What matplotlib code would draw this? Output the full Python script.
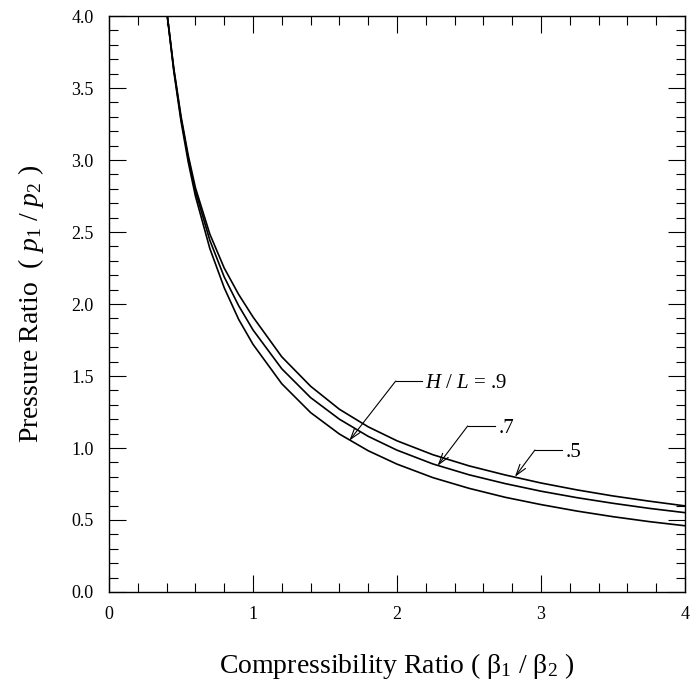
import matplotlib
matplotlib.use("Agg")
import matplotlib.pyplot as plt
from matplotlib.ticker import MultipleLocator

plt.rcParams['font.family'] = ['Liberation Serif', 'DejaVu Serif']
plt.rcParams['mathtext.fontset'] = 'custom'
plt.rcParams['mathtext.rm'] = 'Liberation Serif'
plt.rcParams['mathtext.it'] = 'Liberation Serif:italic'

# ---- data ----
x_vals = [0.405, 0.45, 0.5, 0.55, 0.6, 0.7, 0.8, 0.9, 1.0, 1.2, 1.4, 1.6, 1.8,
          2.0, 2.25, 2.5, 2.75, 3.0, 3.25, 3.5, 3.75, 4.0]
y_hl_09 = [4.0, 3.616, 3.27, 2.987, 2.75, 2.386, 2.113, 1.894, 1.72, 1.446, 1.246,
           1.097, 0.981, 0.888, 0.794, 0.72, 0.658, 0.607, 0.562, 0.523, 0.489, 0.46]
y_hl_07 = [4.0, 3.627, 3.29, 3.015, 2.783, 2.443, 2.188, 1.989, 1.82, 1.55, 1.35,
           1.2, 1.081, 0.985, 0.889, 0.814, 0.753, 0.70, 0.655, 0.616, 0.581, 0.551]
y_hl_05 = [4.0, 3.636, 3.304, 3.033, 2.808, 2.486, 2.25, 2.067, 1.91, 1.633, 1.429,
           1.269, 1.147, 1.05, 0.953, 0.876, 0.813, 0.757, 0.709, 0.667, 0.631, 0.598]

labels = [r'$H$ / $L$ = .9', '.7', '.5']
arrow_tips = [(1.669, 1.051), (2.282, 0.877), (2.819, 0.80)]
leader_corners = [(1.991, 1.465), (2.491, 1.153), (2.958, 0.986)]
leader_ends = [2.172, 2.681, 3.144]

x_ticks = [0, 1, 2, 3, 4]
y_ticks = [0.0, 0.5, 1.0, 1.5, 2.0, 2.5, 3.0, 3.5, 4.0]

# ---- figure ----
fig = plt.figure(figsize=(6.92, 6.87), dpi=100)
ax = fig.add_axes([109/692, 1-592/687, 576/692, 576/687])

for ys in (y_hl_09, y_hl_07, y_hl_05):
    ax.plot(x_vals, ys, color='black', lw=1.2)

for lab, tip, corner, xend in zip(labels, arrow_tips, leader_corners, leader_ends):
    ax.annotate('', xy=tip, xytext=corner,
                arrowprops=dict(arrowstyle='->,head_length=0.8,head_width=0.25',
                                color='black', lw=0.8, shrinkA=0, shrinkB=0))
    ax.plot([corner[0], xend], [corner[1], corner[1]], color='black', lw=0.8)
    ax.text(xend + 0.025, corner[1] - 0.02, lab, fontsize=15, va='center', ha='left')

ax.set_xlim(0, 4)
ax.set_ylim(0, 4)
ax.set_xticks(x_ticks)
ax.set_xticklabels([str(t) for t in x_ticks])
ax.set_yticks(y_ticks)
ax.set_yticklabels([f'{t:.1f}' for t in y_ticks])
ax.xaxis.set_minor_locator(MultipleLocator(0.2))
ax.yaxis.set_minor_locator(MultipleLocator(0.1))
ax.tick_params(which='both', direction='in', top=True, right=True, width=0.8)
ax.tick_params(which='major', length=12.5, labelsize=13, pad=10)
ax.tick_params(axis='y', which='major', pad=11)
ax.tick_params(which='minor', length=6.5)
for s in ax.spines.values():
    s.set_linewidth(1.0)

ax.set_xlabel(r'Compressibility Ratio ( $\mathrm{β}_1$ / $\mathrm{β}_2$ )', fontsize=20, labelpad=20)
ax.set_ylabel(r'Pressure Ratio  ( $p_1$ / $p_2$ )', fontsize=20, labelpad=18)

fig.savefig('out.png', dpi=100)
